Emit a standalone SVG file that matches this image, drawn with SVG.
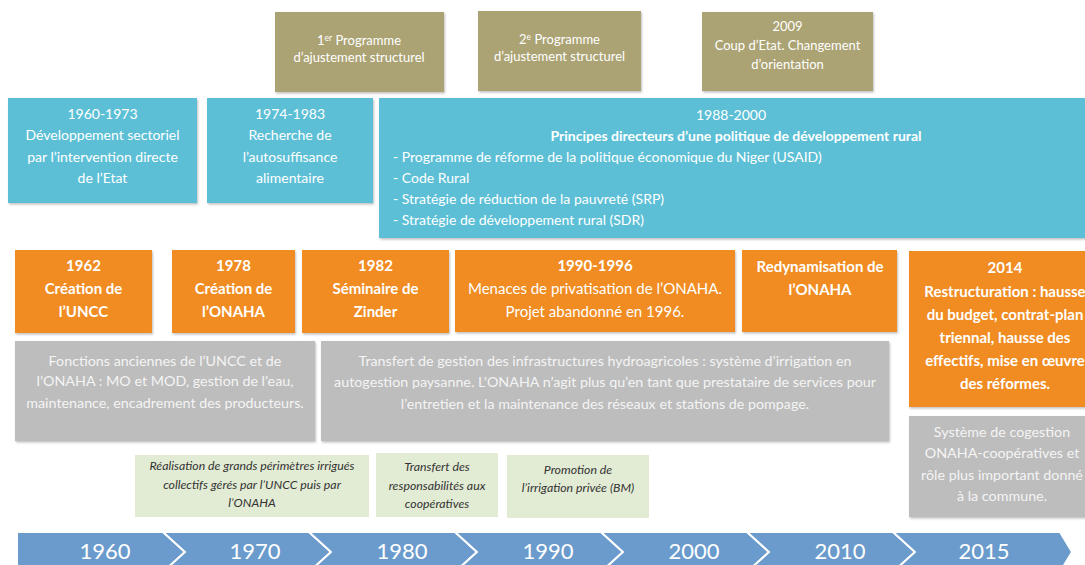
<svg xmlns="http://www.w3.org/2000/svg" width="1085" height="565" viewBox="0 0 1085 565">
<defs>
<filter id="sh" x="-5%" y="-5%" width="110%" height="115%">
<feDropShadow dx="1" dy="1.5" stdDeviation="1" flood-color="#000" flood-opacity="0.25"/>
</filter>
<style>
text{font-family:Lato,"Open Sans","Liberation Sans",sans-serif;text-anchor:middle;fill:#fff}
.olive{fill:#ABA373}
.blue{fill:#5CBFD6}
.orange{fill:#F08C24}
.gray{fill:#BDBDBD}
.green{fill:#E2EBD4}
.tl{fill:#6A9BCC;stroke:#fff;stroke-width:2}
.t12{font-size:13px}
.t13{font-size:14px}
.b14{font-size:15px;font-weight:bold}
.n15{font-size:15px}
.g13{font-size:14.3px;fill:#F4F4F4}
.it{font-size:12.3px;font-style:italic;fill:#333}
.yr{font-size:22px}
.left{text-anchor:start}
</style>
</defs>
<rect width="1085" height="565" fill="#fff"/>

<g id="pas1"><rect class="olive" x="275" y="12" width="169" height="80" filter="url(#sh)"/>
<text class="t12" x="359" y="45">1<tspan font-size="8.5" dy="-4">er</tspan><tspan dy="4"> Programme</tspan></text>
<text class="t12" x="359" y="62">d’ajustement structurel</text></g>

<g id="pas2"><rect class="olive" x="478" y="11" width="163" height="80" filter="url(#sh)"/>
<text class="t12" x="559.5" y="44">2<tspan font-size="8.5" dy="-4">e</tspan><tspan dy="4"> Programme</tspan></text>
<text class="t12" x="559.5" y="61">d’ajustement structurel</text></g>

<g id="coup2009"><rect class="olive" x="702" y="12" width="171" height="79" filter="url(#sh)"/>
<text class="t12" x="787.5" y="31">2009</text>
<text class="t12" x="787.5" y="50">Coup d’Etat. Changement</text>
<text class="t12" x="787.5" y="69">d’orientation</text></g>

<g id="p1960"><rect class="blue" x="8" y="98" width="189" height="105" filter="url(#sh)"/>
<text class="t13" x="102.5" y="119">1960-1973</text>
<text class="t13" x="102.5" y="140">Développement sectoriel</text>
<text class="t13" x="102.5" y="162">par l’intervention directe</text>
<text class="t13" x="102.5" y="183">de l’Etat</text></g>

<g id="p1974"><rect class="blue" x="207" y="98" width="166" height="105" filter="url(#sh)"/>
<text class="t13" x="290" y="119">1974-1983</text>
<text class="t13" x="290" y="140">Recherche de</text>
<text class="t13" x="290" y="162">l’autosuffisance</text>
<text class="t13" x="290" y="183">alimentaire</text></g>

<g id="p1988"><rect class="blue" x="379" y="98" width="720" height="140" filter="url(#sh)"/>
<text class="t13" x="731" y="120">1988-2000</text>
<text class="t13" x="736" y="141" font-weight="bold">Principes directeurs d’une politique de développement rural</text>
<text class="t13 left" x="393" y="162">- Programme de réforme de la politique économique du Niger (USAID)</text>
<text class="t13 left" x="393" y="183">- Code Rural</text>
<text class="t13 left" x="393" y="204">- Stratégie de réduction de la pauvreté (SRP)</text>
<text class="t13 left" x="393" y="225">- Stratégie de développement rural (SDR)</text></g>

<g id="e1962"><rect class="orange" x="15" y="250" width="137" height="83" filter="url(#sh)"/>
<text class="b14" x="83.5" y="271">1962</text>
<text class="b14" x="83.5" y="294">Création de</text>
<text class="b14" x="83.5" y="317">l’UNCC</text></g>

<g id="e1978"><rect class="orange" x="172" y="250" width="123" height="83" filter="url(#sh)"/>
<text class="b14" x="233.5" y="271">1978</text>
<text class="b14" x="233.5" y="294">Création de</text>
<text class="b14" x="233.5" y="317">l’ONAHA</text></g>

<g id="e1982"><rect class="orange" x="302" y="250" width="147" height="83" filter="url(#sh)"/>
<text class="b14" x="375.5" y="271">1982</text>
<text class="b14" x="375.5" y="294">Séminaire de</text>
<text class="b14" x="375.5" y="317">Zinder</text></g>

<g id="e1990"><rect class="orange" x="455" y="250" width="280" height="82" filter="url(#sh)"/>
<text class="b14" x="595" y="271">1990-1996</text>
<text class="n15" x="595" y="294">Menaces de privatisation de l’ONAHA.</text>
<text class="n15" x="595" y="317">Projet abandonné en 1996.</text></g>

<g id="redyn"><rect class="orange" x="742" y="250" width="155" height="82" filter="url(#sh)"/>
<text class="b14" x="820" y="272">Redynamisation de</text>
<text class="b14" x="820" y="295">l’ONAHA</text></g>

<g id="e2014"><rect class="orange" x="909" y="251" width="190" height="156" filter="url(#sh)"/>
<text class="b14" x="1005" y="273">2014</text>
<text class="b14" x="1005" y="297">Restructuration : hausse</text>
<text class="b14" x="1005" y="320">du budget, contrat-plan</text>
<text class="b14" x="1005" y="343">triennal, hausse des</text>
<text class="b14" x="1005" y="366">effectifs, mise en œuvre</text>
<text class="b14" x="1005" y="389">des réformes.</text></g>

<g id="fonctions"><rect class="gray" x="15" y="341" width="300" height="100" filter="url(#sh)"/>
<text class="g13" x="165" y="366">Fonctions anciennes de l’UNCC et de</text>
<text class="g13" x="165" y="386">l’ONAHA : MO et MOD, gestion de l’eau,</text>
<text class="g13" x="165" y="408">maintenance, encadrement des producteurs.</text></g>

<g id="transfert"><rect class="gray" x="321" y="341" width="568" height="100" filter="url(#sh)"/>
<text class="g13" x="605" y="366">Transfert de gestion des infrastructures hydroagricoles : système d’irrigation en</text>
<text class="g13" x="605" y="387">autogestion paysanne. L’ONAHA n’agit plus qu’en tant que prestataire de services pour</text>
<text class="g13" x="605" y="409">l’entretien et la maintenance des réseaux et stations de pompage.</text></g>

<g id="cogestion"><rect class="gray" x="909" y="416" width="190" height="101" filter="url(#sh)"/>
<text class="g13" x="1002" y="437">Système de cogestion</text>
<text class="g13" x="1002" y="458">ONAHA-coopératives et</text>
<text class="g13" x="1002" y="480">rôle plus important donné</text>
<text class="g13" x="1002" y="501">à la commune.</text></g>

<g id="grands-perimetres"><rect class="green" x="135" y="455" width="234" height="62"/>
<text class="it" x="252" y="470">Réalisation de grands périmètres irrigués</text>
<text class="it" x="252" y="489">collectifs gérés par l’UNCC puis par</text>
<text class="it" x="252" y="507">l’ONAHA</text></g>

<g id="transfert-resp"><rect class="green" x="376" y="453" width="122" height="64"/>
<text class="it" x="437" y="471">Transfert des</text>
<text class="it" x="437" y="490">responsabilités aux</text>
<text class="it" x="437" y="508">coopératives</text></g>

<g id="promotion"><rect class="green" x="507" y="455" width="142" height="63"/>
<text class="it" x="578" y="474">Promotion de</text>
<text class="it" x="578" y="492">l’irrigation privée (BM)</text></g>

<g id="connectors"></g>

<g id="timeline">
<polygon class="tl" points="17,532 163,532 185,552 163,572 17,572"/>
<polygon class="tl" points="163,532 309,532 331,552 309,572 163,572 185,552"/>
<polygon class="tl" points="309,532 455,532 477,552 455,572 309,572 331,552"/>
<polygon class="tl" points="455,532 601,532 623,552 601,572 455,572 477,552"/>
<polygon class="tl" points="601,532 747,532 769,552 747,572 601,572 623,552"/>
<polygon class="tl" points="747,532 893,532 915,552 893,572 747,572 769,552"/>
<polygon class="tl" points="893,532 1060,532 1072,552 1060,572 893,572 915,552"/>
<text class="yr" x="105" y="559">1960</text>
<text class="yr" x="255" y="559">1970</text>
<text class="yr" x="402" y="559">1980</text>
<text class="yr" x="548" y="559">1990</text>
<text class="yr" x="694" y="559">2000</text>
<text class="yr" x="840" y="559">2010</text>
<text class="yr" x="984" y="559">2015</text>
</g>
</svg>
